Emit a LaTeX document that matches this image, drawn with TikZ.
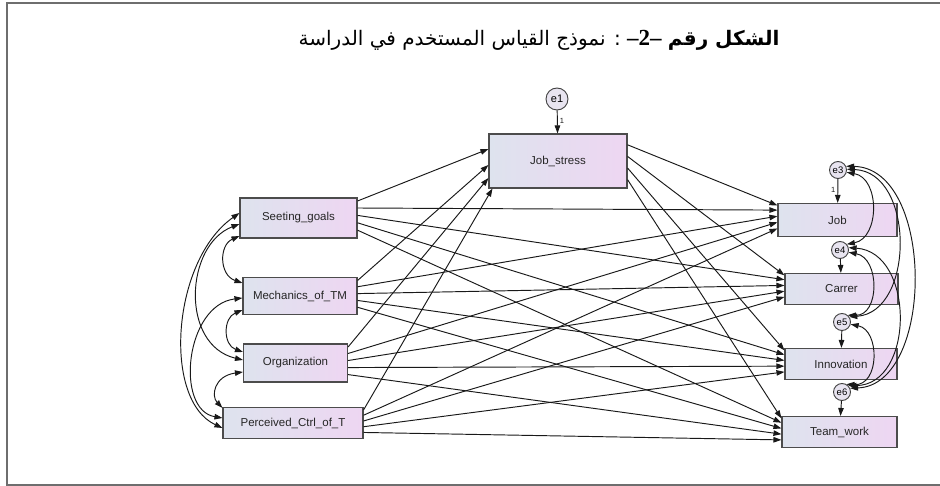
\documentclass[tikz,border=0pt]{standalone}
\usepackage{fontspec}
\setmainfont{Liberation Sans}
\newfontfamily\arabicfont[Script=Arabic]{DejaVu Sans}
\newfontfamily\serifnum{Liberation Serif}
\TeXXeTstate=1
\usetikzlibrary{arrows.meta}
\definecolor{boxL}{RGB}{222,227,238}
\definecolor{boxR}{RGB}{238,214,242}
\definecolor{errfill}{RGB}{232,228,240}
\definecolor{frameC}{RGB}{110,110,110}
\begin{document}
\begin{tikzpicture}[x=1pt,y=1pt,
  box/.style={draw=black!70, line width=1.1pt, left color=boxL, right color=boxR,
    font=\fontsize{11.5}{13}\selectfont, text=black!85, inner sep=0pt},
  err/.style={circle, draw=black!75, line width=0.9pt, fill=errfill,
    minimum size=17pt, inner sep=0pt, font=\fontsize{9.5}{10}\selectfont},
  errbig/.style={err, minimum size=22pt, font=\fontsize{11}{12}\selectfont},
  reg/.style={-{Triangle[length=8pt,width=5.5pt]}, line width=0.95pt, black!90},
  cov/.style={{Triangle[length=8pt,width=5.5pt]}-{Triangle[length=8pt,width=5.5pt]}, line width=0.95pt, black!90},
  one/.style={font=\fontsize{7.5}{8}\selectfont, inner sep=0pt}
]
\useasboundingbox (0,0) rectangle (940,-486);
% frame
\draw[frameC, line width=1.1pt] (940,-3) -- (7,-3) -- (7,-485) -- (940,-485);

% title
\node[font=\fontsize{20}{24}\selectfont] (title) at (539,-40)
  {\arabicfont\beginR\textbf{الشكل رقم} \beginL{\serifnum\bfseries\fontsize{23}{24}\selectfont –2–}\endL{} : نموذج القياس المستخدم في الدراسة\endR};

% nodes
\node[box, minimum width=138pt, minimum height=54pt] (js) at (558,-161) {Job\_stress};
\node[errbig] (e1) at (557,-99) {e1};

\node[box, minimum width=117pt, minimum height=40pt] (sg) at (298.5,-218) {Seeting\_goals};
\node[box, minimum width=114pt, minimum height=37pt] (mt) at (300,-296) {Mechanics\_of\_TM};
\node[box, minimum width=104pt, minimum height=38pt] (org) at (295.5,-363) {Organization};
\node[box, minimum width=140pt, minimum height=31pt] (pc) at (293,-423) {Perceived\_Ctrl\_of\_T};

\node[box, minimum width=119pt, minimum height=33pt] (job) at (837.5,-220) {Job};
\node[box, minimum width=113pt, minimum height=31pt] (car) at (841.5,-289) {Carrer};
\node[box, minimum width=112pt, minimum height=31pt] (inn) at (841,-364) {Innovation};
\node[box, minimum width=115pt, minimum height=31pt] (tw) at (839.5,-432) {Team\_work};

\node[err] (e3) at (838,-170) {e3};
\node[err] (e4) at (840,-250) {e4};
\node[err] (e5) at (842,-322) {e5};
\node[err] (e6) at (842,-392) {e6};

% regression paths: exogenous -> outcomes
\foreach \s/\sj/\sh in {sg/1/20,mt/2/18.5,org/3/19,pc/4/15.5}{
  \foreach \t/\tk/\th in {job/1/16.5,car/2/15.5,inn/3/15.5,tw/4/15.5}{
    \pgfmathsetmacro\so{\sh*(0.5-0.37*(\tk-1))}
    \pgfmathsetmacro\eo{\th*(0.6-0.37*(\sj-1))}
    \draw[reg] ([yshift=\so pt]\s.east) -- ([yshift=\eo pt]\t.west);
  }
}
% exogenous -> Job_stress
\draw[reg] ([yshift=17pt]sg.east) -- ([yshift=12pt]js.west);
\draw[reg] ([yshift=15.5pt]mt.east) -- ([yshift=-4pt]js.west);
\draw[reg] ([yshift=16pt]org.east) -- ([yshift=-17pt]js.west);
\draw[reg] ([yshift=13pt]pc.east) -- ([xshift=4pt]js.south west);
% Job_stress -> outcomes
\foreach \t/\tk/\th in {job/1/16.5,car/2/15.5,inn/3/15.5,tw/4/15.5}{
  \pgfmathsetmacro\so{27*(0.6-0.43*(\tk-1))}
  \pgfmathsetmacro\eo{\th*0.88}
  \draw[reg] ([yshift=\so pt]js.east) -- ([yshift=\eo pt]\t.west);
}

% error paths
\draw[reg] (e1) -- node[one, right=2pt, pos=0.45] {1} (js);
\draw[reg] (e3) -- node[one, left=2pt, pos=0.45] {1} (job);
\draw[reg] (e4) -- (car);
\draw[reg] (e5) -- (inn);
\draw[reg] (e6) -- (tw);

% left covariances
\draw[cov] ([yshift=5pt]sg.west) .. controls (172,-260) and (162,-400) .. ([yshift=-5pt]pc.west);
\draw[cov] ([yshift=-6pt]sg.west) .. controls (185,-245) and (180,-345) .. ([yshift=3pt]org.west);
\draw[cov] ([yshift=-2pt]mt.west) .. controls (185,-305) and (175,-410) .. ([yshift=5pt]pc.west);
\draw[cov] ([yshift=-18pt]sg.west) .. controls (219,-245) and (219,-275) .. ([yshift=13pt]mt.west);
\draw[cov] ([yshift=-14pt]mt.west) .. controls (223,-318) and (223,-345) .. ([yshift=11pt]org.west);
\draw[cov] ([yshift=-9pt]org.west) .. controls (214,-376) and (211,-396) .. ([yshift=-1pt]pc.north west);

% right covariances
\draw[cov] (e3.-15) .. controls (880,-178) and (880,-238) .. (e4.40);
\draw[cov] (e3.5) .. controls (915,-172) and (915,-312) .. (e5.35);
\draw[cov] (e3.25) .. controls (935,-168) and (935,-385) .. (e6.25);
\draw[cov] (e4.-15) .. controls (880,-258) and (880,-316) .. (e5.50);
\draw[cov] (e4.15) .. controls (915,-252) and (915,-385) .. (e6.45);
\draw[cov] (e5.-15) .. controls (880,-330) and (880,-386) .. (e6.60);
\end{tikzpicture}
\end{document}
